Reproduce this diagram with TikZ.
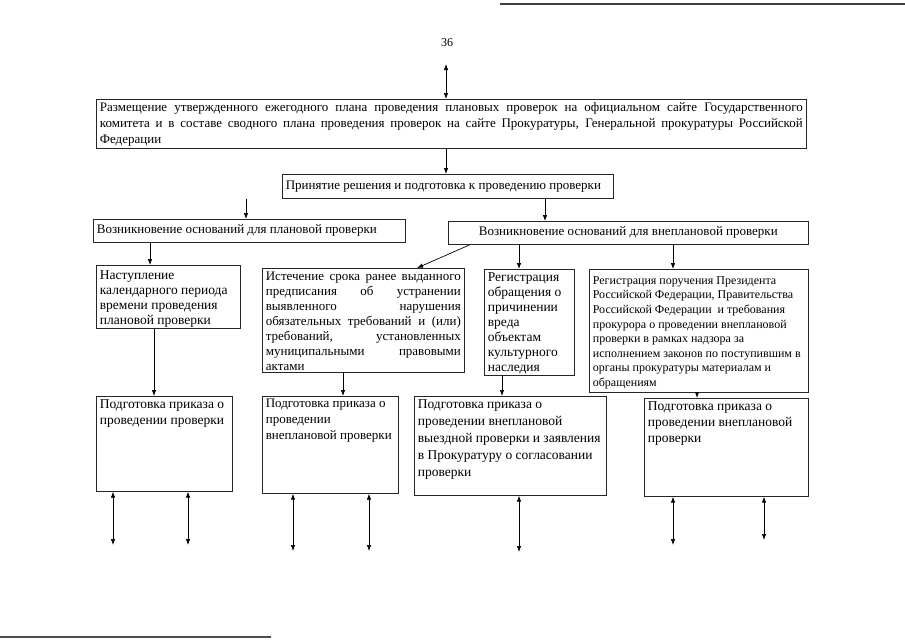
\documentclass[tikz,border=0pt]{standalone}
\usepackage{fontspec}
\setmainfont{Liberation Serif}
\usetikzlibrary{arrows.meta}
\newcommand\jl[2]{\makebox[#1][s]{#2}}
\newcommand\bxt[3]{\parbox[c][#2][t]{#1}{\raggedright #3}}
\newcommand\bxc[3]{\parbox[c][#2][c]{#1}{\raggedright #3}}
\begin{document}
\begin{tikzpicture}[x=1pt,y=-1pt,
  box/.style={draw=black!85, line width=0.7pt, inner xsep=3.5pt, inner ysep=3pt, anchor=north west, font=\fontsize{13}{15}\selectfont},
  big/.style={font=\fontsize{13.5}{16}\selectfont},
  arr/.style={line width=0.7pt, -{Latex[length=6pt,width=4.5pt]}},
  dbl/.style={line width=0.7pt, {Latex[length=6pt,width=4.5pt]}-{Latex[length=6pt,width=4.5pt]}}]
\useasboundingbox (0,0) rectangle (905,640);
% page edge lines
\draw[line width=2pt, black!75] (500,4) -- (905,4);
\draw[line width=1.5pt, black!70] (0,637) -- (271,637);
% page number
\node[font=\fontsize{12}{14}\selectfont] (pg) at (447,43) {36};

\node[box, font=\fontsize{13}{16}\selectfont] (b1) at (96,99) {\bxt{703pt}{43pt}{\jl{703pt}{Размещение утвержденного ежегодного плана проведения плановых проверок на официальном сайте Государственного}\\\jl{703pt}{комитета и в составе сводного плана проведения проверок на сайте Прокуратуры, Генеральной прокуратуры Российской}\\Федерации}};
\node[box] (b2) at (282,174) {\bxc{324pt}{18pt}{Принятие решения и подготовка к проведению проверки}};
\node[box] (b3a) at (93,219) {\bxc{305pt}{17pt}{Возникновение оснований для плановой проверки}};
\node[box] (b3b) at (448,221) {\parbox[c][17pt][c]{353pt}{\centering Возникновение оснований для внеплановой проверки}};

\node[box, font=\fontsize{13.5}{15}\selectfont] (b4a) at (96,265) {\bxt{137pt}{57pt}{\vspace*{2pt}Наступление\\календарного периода\\времени проведения\\плановой проверки}};
\node[box] (b4b) at (262,268) {\bxt{195pt}{98pt}{\vspace*{1pt}\jl{195pt}{Истечение срока ранее выданного}\\\jl{195pt}{предписания об устранении}\\\jl{195pt}{выявленного нарушения}\\\jl{195pt}{обязательных требований и (или)}\\\jl{195pt}{требований, установленных}\\\jl{195pt}{муниципальными правовыми}\\актами}};
\node[box, font=\fontsize{13.5}{15}\selectfont] (b4c) at (484,269) {\bxt{83pt}{100pt}{Регистрация\\обращения о\\причинении\\вреда\\объектам\\культурного\\наследия}};
\node[box, font=\fontsize{12}{14.6}\selectfont] (b4d) at (589,269) {\bxt{212pt}{117pt}{\vspace*{4pt}Регистрация поручения Президента\\Российской Федерации, Правительства\\Российской Федерации~ и требования\\прокурора о проведении внеплановой\\проверки в рамках надзора за\\исполнением законов по поступившим в\\органы прокуратуры материалам и\\обращениям}};

\node[box, big] (b5a) at (96,396) {\bxt{129pt}{89pt}{Подготовка приказа о\\проведении проверки}};
\node[box, font=\fontsize{13}{16}\selectfont] (b5b) at (262,396) {\bxt{129pt}{91pt}{Подготовка приказа о\\проведении\\\mbox{внеплановой проверки}}};
\node[box, font=\fontsize{13.5}{17}\selectfont] (b5c) at (414,396) {\bxt{185pt}{93pt}{Подготовка приказа о\\проведении внеплановой\\выездной проверки и заявления\\в Прокуратуру о согласовании\\проверки}};
\node[box, big] (b5d) at (644,398) {\bxt{157pt}{92pt}{Подготовка приказа о\\проведении внеплановой\\проверки}};

% x positions
\foreach \x in {446,246,545,150,470,417,519,673,154,343,502,697}{\coordinate (x\x) at (\x,0);}
\coordinate (top) at (446,64);
\draw[dbl] (top) -- (b1.north -| top);
\draw[arr] (b1.south -| x446) -- (b2.north -| x446);
\draw[arr] (b2.south -| x246) -- (b3a.north -| x246);
\draw[arr] (b2.south -| x545) -- (b3b.north -| x545);
\draw[arr] (b3a.south -| x150) -- (b4a.north -| x150);
\draw[arr] (b3b.south -| x470) -- (b4b.north -| x417);
\draw[arr] (b3b.south -| x519) -- (b4c.north -| x519);
\draw[arr] (b3b.south -| x673) -- (b4d.north -| x673);
\draw[arr] (b4a.south -| x154) -- (b5a.north -| x154);
\draw[arr] (b4b.south -| x343) -- (b5b.north -| x343);
\draw[arr] (b4c.south -| x502) -- (b5c.north -| x502);
\draw[arr] (b4d.south -| x697) -- (b5d.north -| x697);

% bottom double arrows
\coordinate (e1) at (113,545);
\coordinate (e2) at (188,545);
\coordinate (e3) at (293,551);
\coordinate (e4) at (369,551);
\coordinate (e5) at (519,552);
\coordinate (e6) at (673,545);
\coordinate (e7) at (764,540);
\draw[dbl] (b5a.south -| e1) -- (e1);
\draw[dbl] (b5a.south -| e2) -- (e2);
\draw[dbl] (b5b.south -| e3) -- (e3);
\draw[dbl] (b5b.south -| e4) -- (e4);
\draw[dbl] (b5c.south -| e5) -- (e5);
\draw[dbl] (b5d.south -| e6) -- (e6);
\draw[dbl] (b5d.south -| e7) -- (e7);
\end{tikzpicture}
\end{document}
